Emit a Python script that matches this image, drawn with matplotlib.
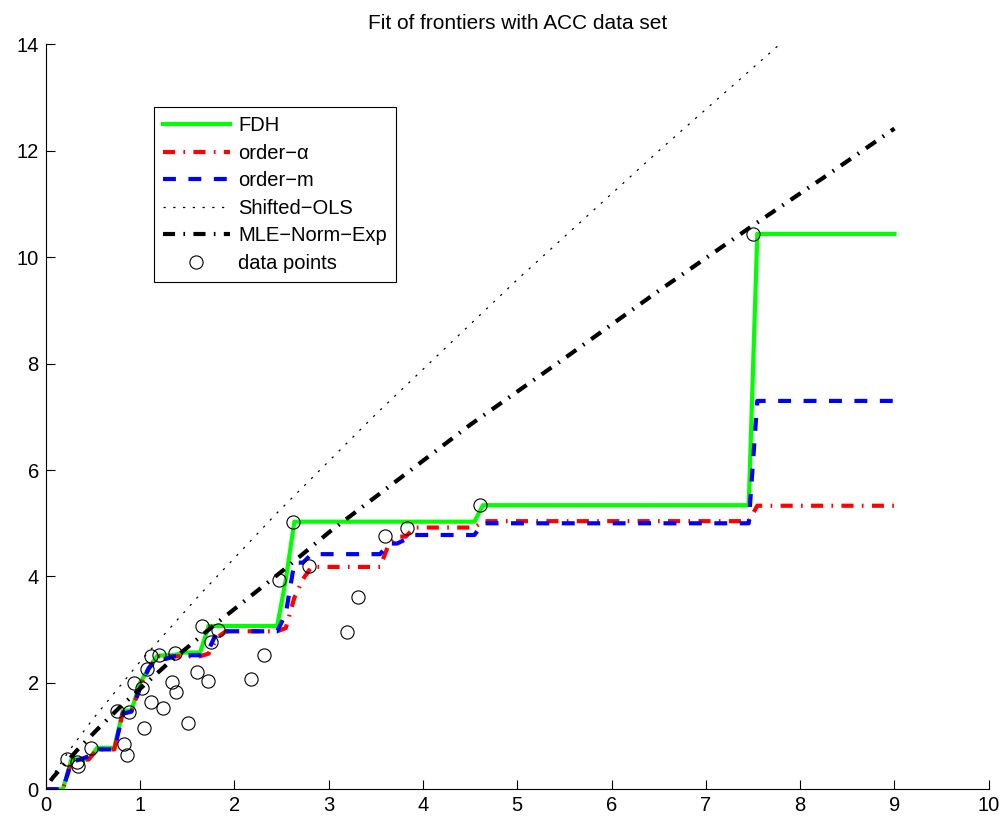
import numpy as np
import matplotlib
matplotlib.use('Agg')
import matplotlib.pyplot as plt

plt.rcParams['font.family'] = ['Liberation Sans', 'DejaVu Sans']

# observed ACC data points (input x, output y)
data_x = [0.222, 0.33, 0.34, 0.477, 0.753, 0.887, 0.830, 0.859, 0.940, 1.018,
          1.071, 1.113, 1.205, 1.371, 1.042, 1.117, 1.240, 1.336, 1.382, 1.512,
          1.601, 1.724, 1.661, 1.753, 1.830, 2.174, 2.315, 2.477, 2.626, 2.796,
          3.190, 3.315, 3.598, 3.831, 4.605, 7.500]
data_y = [0.564, 0.52, 0.43, 0.78, 1.48, 1.45, 0.86, 0.64, 2.00, 1.90,
          2.27, 2.51, 2.52, 2.57, 1.15, 1.65, 1.52, 2.01, 1.82, 1.24,
          2.21, 2.04, 3.07, 2.77, 2.99, 2.07, 2.52, 3.94, 5.03, 4.20,
          2.96, 3.61, 4.76, 4.91, 5.34, 10.44]

# frontiers were evaluated on this grid
grid = np.linspace(0, 9, 100)

# order-alpha frontier: where each level starts, and the level
alpha_start = [0, 0.27, 0.36, 0.54, 0.81, 0.90, 0.99, 1.09, 1.18, 1.72, 1.81,
               1.90, 2.54, 2.63, 2.72, 2.81, 3.63, 3.72, 3.90, 4.63, 7.54]
alpha_level = [0, 0.52, 0.56, 0.75, 1.45, 1.47, 1.92, 2.27, 2.50, 2.55, 2.85,
               2.97, 3.03, 3.60, 3.95, 4.18, 4.60, 4.75, 4.92, 5.04, 5.33]

# order-m frontier
m_start = [0, 0.27, 0.36, 0.45, 0.54, 0.81, 0.90, 0.99, 1.09, 1.18, 1.36,
           1.45, 1.72, 1.81, 2.54, 2.63, 2.81, 3.63, 3.81, 3.90, 4.63, 7.54]
m_level = [0, 0.52, 0.56, 0.62, 0.75, 1.42, 1.46, 1.90, 2.27, 2.45, 2.50,
           2.52, 2.62, 2.97, 3.30, 4.26, 4.42, 4.62, 4.70, 4.78, 5.00, 7.30]

# shifted OLS curve
ols_x = [0, 0.1, 0.25, 0.5, 1.0, 1.64, 2.45, 3.5, 5.0, 6.5, 7.78, 9.0]
ols_y = [0, 0.33, 0.73, 1.32, 2.40, 3.67, 5.19, 7.05, 9.58, 12.0, 14.0, 15.9]

# MLE normal-exponential curve
mle_x = [0.05, 0.08, 0.33, 0.56, 0.79, 1.28, 1.81, 2.52, 3.01, 3.5, 4.5, 5.5,
         6.5, 7.5, 8.25, 9.0]
mle_y = [0.16, 0.23, 0.73, 1.15, 1.55, 2.34, 3.12, 4.12, 4.84, 5.50, 6.85,
         8.10, 9.37, 10.60, 11.50, 12.42]


def steps(start, level):
    idx = np.searchsorted(start, grid, side='right') - 1
    return np.asarray(level)[idx]


dx = np.asarray(data_x)
dy = np.asarray(data_y)
fdh = np.array([dy[dx <= g].max() if np.any(dx <= g) else 0.0 for g in grid])

fig = plt.figure(figsize=(10.03, 8.18), dpi=100)
ax = fig.add_axes([0.0456, 0.0351, 0.9402, 0.9105])

dashdot = (0, (2.9, 2.0, 0.4, 2.0))
ax.plot(grid, fdh, color=(0, 1, 0), lw=3.0, label='FDH')
ax.plot(grid, steps(alpha_start, alpha_level), color=(1, 0, 0), lw=3.0,
        ls=dashdot, label='order\u2212\u03b1')
ax.plot(grid, steps(m_start, m_level), color=(0, 0, 1), lw=3.0,
        ls=(0, (3.1, 3.0)), label='order\u2212m')
ax.plot(ols_x, ols_y, color='k', lw=0.9, ls=(0, (1.8, 6.0)),
        label='Shifted\u2212OLS')
ax.plot(mle_x, mle_y, color='k', lw=3.0, ls=dashdot,
        label='MLE\u2212Norm\u2212Exp')
ax.plot(data_x, data_y, 'o', mfc='none', mec='k', ms=9.5, mew=0.8,
        label='data points', clip_on=False)

ax.set_xlim(0, 10)
ax.set_ylim(0, 14)
ax.set_xticks(range(0, 11))
ax.set_yticks(range(0, 15, 2))
ax.spines['top'].set_visible(False)
ax.spines['right'].set_visible(False)
for s in ('left', 'bottom'):
    ax.spines[s].set_linewidth(0.8)
ax.tick_params(direction='in', length=6.8, width=0.8, labelsize=14.5, pad=5)
ax.set_title('Fit of frontiers with ACC data set', fontsize=15, pad=11)

leg = ax.legend(loc='upper left', bbox_to_anchor=(0.1148, 0.9157),
                borderaxespad=0, fontsize=14.5, handlelength=3.3,
                handletextpad=0.42, labelspacing=0.42, borderpad=0.45,
                fancybox=False, framealpha=1, edgecolor='k')
leg.get_frame().set_linewidth(0.8)

fig.savefig('out.png', dpi=100)
